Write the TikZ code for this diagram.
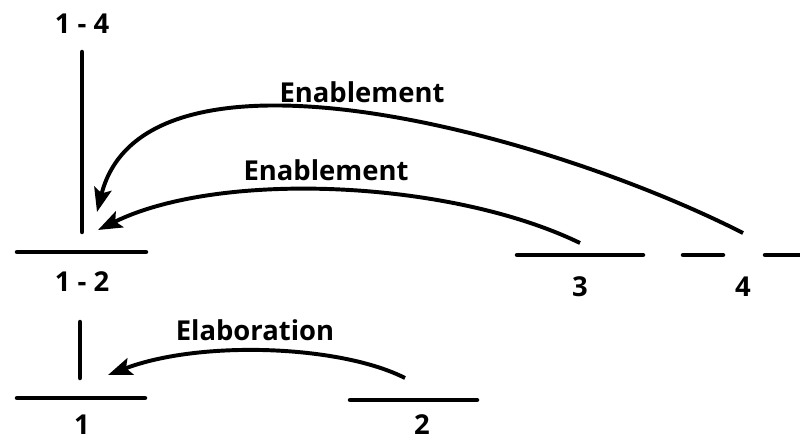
\documentclass[tikz,border=0pt]{standalone}
\usepackage{fontspec}
\setmainfont{Open Sans}
\usetikzlibrary{arrows.meta}
\tikzset{
    seg/.style={line width=3.2pt, line cap=round},
    rel/.style={line width=2.8pt, -{Stealth[length=6mm,width=4.4mm,inset=1.2mm]}},
    lbl/.style={font=\bfseries\fontsize{19.5}{22}\selectfont}
}
\begin{document}
\begin{tikzpicture}
        \useasboundingbox (0,0) rectangle (20,11.05);
        \coordinate (T14) at (2.05,9.75);
        \coordinate (B14) at (2.05,5.25);
        \coordinate (T12) at (2.0,3.0);
        \coordinate (B12) at (2.0,1.6);
        \coordinate (S3) at (14.5,4.975);
        \coordinate (S4) at (18.575,5.225);
        \coordinate (S2) at (10.125,1.6);
        \coordinate (E14) at (2.425,5.75);
        \coordinate (E12a) at (2.45,5.3);
        \coordinate (E1) at (2.7,1.675);
        \node[lbl] (L14) at (2.05,10.45) {1 - 4};
        \node[lbl] (L12) at (2.05,4.0) {1 - 2};
        \node[lbl] (L1) at (2.05,0.425) {1};
        \node[lbl] (L2) at (10.55,0.425) {2};
        \node[lbl] (L3) at (14.5,3.875) {3};
        \node[lbl] (L4) at (18.575,3.875) {4};
        \node[lbl] (R1) at (9.05,8.75) {Enablement};
        \node[lbl] (R2) at (8.15,6.8) {Enablement};
        \node[lbl] (R3) at (6.375,2.8) {Elaboration};
        \draw[seg] (T14) -- (B14);
        \draw[seg] (T12) -- (B12);
        \draw[seg] (0.425,4.75) -- (3.65,4.75);
        \draw[seg] (0.425,1.1) -- (3.625,1.1);
        \draw[seg] (8.75,1.05) -- (11.925,1.05);
        \draw[seg] (12.925,4.675) -- (16.075,4.675);
        \draw[seg, dash pattern=on 1cm off 1.05cm] (17.075,4.675) -- (20.2,4.675);
        \draw[rel] (S4) .. controls (13.5,7.8) and (3.6,10.4) .. (E14);
        \draw[rel] (S3) .. controls (11.25,6.55) and (5.5,6.8) .. (E12a);
        \draw[rel] (S2) .. controls (8.5,2.425) and (5.0,2.55) .. (E1);
\end{tikzpicture}
\end{document}
